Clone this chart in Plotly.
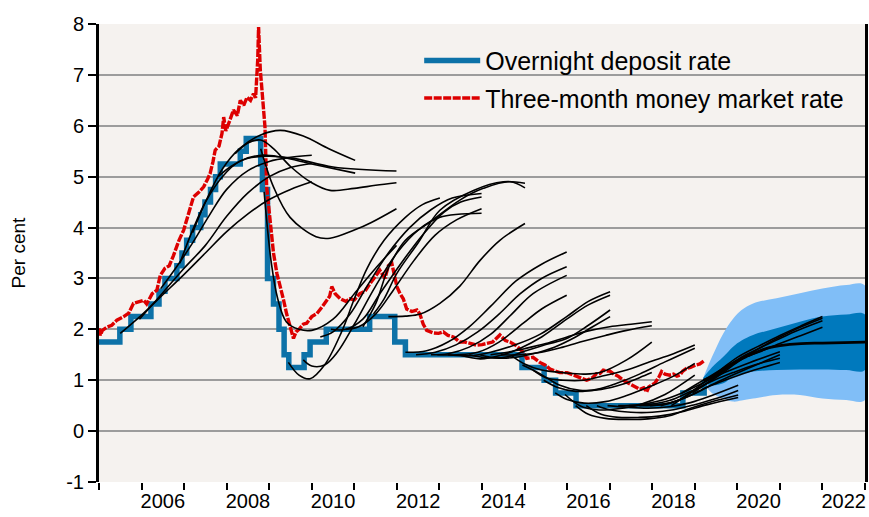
import plotly.graph_objects as go

# ---------------- data ----------------
policy_t = [2005.0, 2005.49, 2005.75, 2006.22, 2006.41, 2006.55, 2006.83, 2006.95, 2007.06, 2007.2,
            2007.39, 2007.49, 2007.62, 2007.74, 2007.85, 2008.32, 2008.46, 2008.8, 2008.84, 2008.96,
            2009.1, 2009.23, 2009.35, 2009.46, 2009.82, 2009.96, 2010.34, 2011.36, 2011.95, 2012.2,
            2014.94, 2015.46, 2015.73, 2016.21, 2018.72, 2019.22]
policy_v = [1.75, 2.0, 2.25, 2.5, 2.75, 3.0, 3.25, 3.5, 3.75, 4.0,
            4.25, 4.5, 4.75, 5.0, 5.25, 5.5, 5.75, 5.25, 4.75, 3.0,
            2.5, 2.0, 1.5, 1.25, 1.5, 1.75, 2.0, 2.25, 1.75, 1.5,
            1.25, 1.0, 0.75, 0.5, 0.75, 1.0]

nibor_t = [2005.0, 2005.03, 2005.08, 2005.2, 2005.3, 2005.42, 2005.58, 2005.7, 2005.81, 2005.95,
           2006.05, 2006.12, 2006.25, 2006.36, 2006.44, 2006.55, 2006.65, 2006.75, 2006.88, 2006.99,
           2007.1, 2007.22, 2007.35, 2007.46, 2007.55, 2007.61, 2007.68, 2007.73, 2007.82, 2007.89,
           2007.93, 2007.98, 2008.05, 2008.16, 2008.25, 2008.32, 2008.4, 2008.48, 2008.56, 2008.63,
           2008.68, 2008.71, 2008.73, 2008.75, 2008.77, 2008.79, 2008.82, 2008.86, 2008.9, 2008.94,
           2009.02, 2009.1, 2009.18, 2009.26, 2009.33, 2009.41, 2009.5, 2009.57, 2009.63, 2009.7,
           2009.8, 2009.88, 2010.0, 2010.12, 2010.25, 2010.35, 2010.42, 2010.47, 2010.55, 2010.67,
           2010.8, 2010.9, 2011.0, 2011.13, 2011.25, 2011.37, 2011.5, 2011.6, 2011.72, 2011.8,
           2011.88, 2011.95, 2012.0, 2012.07, 2012.15, 2012.23, 2012.35, 2012.47, 2012.54, 2012.62,
           2012.7, 2012.85, 2012.98, 2013.09, 2013.2, 2013.33, 2013.48, 2013.6, 2013.75, 2013.87,
           2014.0, 2014.1, 2014.25, 2014.42, 2014.55, 2014.66, 2014.8, 2014.97, 2015.05, 2015.2,
           2015.36, 2015.48, 2015.6, 2015.72, 2015.83, 2016.0, 2016.14, 2016.3, 2016.46, 2016.6,
           2016.69, 2016.77, 2016.85, 2016.95, 2017.0, 2017.1, 2017.2, 2017.32, 2017.45, 2017.55,
           2017.63, 2017.71, 2017.8, 2017.87, 2017.92, 2017.98, 2018.06, 2018.15, 2018.22, 2018.3,
           2018.41, 2018.5, 2018.58, 2018.65, 2018.72, 2018.8, 2018.9, 2019.03, 2019.12, 2019.23]
nibor_v = [2.02, 1.88, 1.98, 2.05, 2.08, 2.18, 2.25, 2.32, 2.51, 2.55,
           2.57, 2.5, 2.7, 2.77, 3.06, 3.2, 3.25, 3.45, 3.75, 3.95,
           4.25, 4.6, 4.7, 4.8, 4.95, 5.06, 5.3, 5.52, 5.6, 5.85,
           6.17, 5.9, 6.05, 6.31, 6.2, 6.5, 6.4, 6.56, 6.5, 6.63,
           6.55, 6.96, 7.3, 7.94, 7.2, 7.1, 6.8, 6.44, 5.98, 4.8,
           4.1, 3.5, 3.1, 2.85, 2.6, 2.3, 2.0, 1.82, 1.95, 2.0,
           2.1, 2.12, 2.25, 2.31, 2.45, 2.57, 2.65, 2.84, 2.7, 2.6,
           2.55, 2.6, 2.58, 2.7, 2.75, 2.9, 3.05, 3.16, 3.0, 3.25,
           3.3, 3.0, 2.84, 2.71, 2.6, 2.4, 2.35, 2.38, 2.3, 2.1,
           1.98, 1.93, 1.92, 1.95, 1.88, 1.85, 1.75, 1.75, 1.72, 1.69,
           1.7, 1.72, 1.75, 1.89, 1.78, 1.75, 1.68, 1.55, 1.43, 1.45,
           1.35, 1.3, 1.22, 1.18, 1.15, 1.15, 1.1, 1.05, 1.0, 1.05,
           1.13, 1.13, 1.2, 1.18, 1.18, 1.12, 1.08, 1.0, 0.94, 0.9,
           0.87, 0.82, 0.85, 0.77, 0.87, 0.9, 0.94, 1.05, 1.17, 1.12,
           1.1, 1.12, 1.08, 1.1, 1.18, 1.23, 1.25, 1.3, 1.32, 1.39]

# past forecast paths (year, per cent)
path_2005_2 = [(2005.5, 1.92), (2006.0, 2.28), (2006.5, 2.68), (2007.0, 3.08), (2007.5, 3.5), (2008.0, 3.92), (2008.5, 4.27), (2009.0, 4.55), (2009.5, 4.75), (2010.0, 4.9)]
path_2005_3 = [(2005.95, 2.2), (2006.5, 2.72), (2007.0, 3.2), (2007.5, 3.65), (2008.0, 4.22), (2008.5, 4.68), (2009.0, 5.0), (2009.5, 5.18), (2010.0, 5.26)]
path_2006_2 = [(2006.45, 2.8), (2006.8, 3.2), (2007.2, 3.7), (2007.6, 4.25), (2008.0, 4.75), (2008.5, 5.12), (2009.0, 5.3), (2009.5, 5.38), (2010.0, 5.42)]
path_2006_3 = [(2006.9, 3.3), (2007.2, 3.95), (2007.5, 4.5), (2007.9, 5.0), (2008.3, 5.3), (2008.8, 5.42), (2009.3, 5.38), (2010.0, 5.25), (2011.02, 5.07)]
path_2007_1 = [(2007.2, 3.9), (2007.5, 4.5), (2007.9, 5.15), (2008.3, 5.55), (2008.8, 5.82), (2009.26, 5.91), (2009.8, 5.8), (2010.4, 5.55), (2011.02, 5.32)]
path_2007_3 = [(2007.8, 5.0), (2008.1, 5.2), (2008.5, 5.36), (2009.0, 5.4), (2009.57, 5.36), (2010.5, 5.19), (2011.99, 5.11)]
path_2008_1 = [(2008.2, 5.45), (2008.5, 5.66), (2008.8, 5.72), (2009.1, 5.55), (2009.5, 5.2), (2010.0, 4.88), (2010.43, 4.73), (2011.0, 4.77), (2011.5, 4.83), (2011.99, 4.88)]
path_2008_3 = [(2008.8, 5.55), (2009.1, 4.8), (2009.49, 4.2), (2010.1, 3.82), (2010.43, 3.79), (2011.0, 3.95), (2011.4, 4.1), (2011.99, 4.37)]
path_2009_1 = [(2008.88, 4.7), (2009.05, 3.3), (2009.2, 2.6), (2009.4, 2.15), (2009.7, 2.0), (2010.0, 1.98), (2010.5, 2.2), (2011.0, 2.7), (2011.5, 3.2), (2011.99, 3.65)]
path_2009_2 = [(2009.45, 1.35), (2009.7, 1.1), (2009.96, 1.03), (2010.3, 1.3), (2010.7, 1.95), (2011.0, 2.6), (2011.3, 3.2), (2011.7, 3.75), (2012.2, 4.2), (2012.6, 4.45), (2013.01, 4.58)]
path_2009_3 = [(2009.8, 1.4), (2010.0, 1.28), (2010.3, 1.3), (2010.6, 1.55), (2011.0, 2.1), (2011.5, 2.85), (2012.0, 3.5), (2012.5, 3.95), (2013.0, 4.2), (2013.99, 4.28)]
path_2010_1 = [(2010.2, 1.85), (2010.5, 1.95), (2010.9, 2.3), (2011.3, 2.85), (2011.8, 3.5), (2012.3, 4.0), (2012.8, 4.35), (2013.3, 4.58), (2013.99, 4.67)]
path_2010_2 = [(2010.45, 2.0), (2010.8, 2.0), (2011.2, 2.2), (2011.6, 2.7), (2012.1, 3.3), (2012.6, 3.85), (2013.1, 4.3), (2013.5, 4.5), (2013.99, 4.6)]
path_2010_3 = [(2010.8, 2.0), (2011.1, 2.05), (2011.5, 2.3), (2011.9, 2.75), (2012.4, 3.35), (2012.9, 3.85), (2013.4, 4.15), (2013.99, 4.37)]
path_2011_1 = [(2011.2, 2.05), (2011.5, 2.5), (2011.8, 3.2), (2012.2, 3.75), (2012.78, 4.11), (2013.48, 4.54), (2014.03, 4.77), (2014.66, 4.9), (2015.01, 4.78)]
path_2011_2 = [(2011.45, 2.3), (2011.7, 2.6), (2012.0, 3.1), (2012.5, 3.7), (2013.01, 4.34), (2013.8, 4.73), (2014.5, 4.9), (2015.01, 4.87)]
path_2011_3 = [(2011.8, 2.25), (2012.2, 2.26), (2012.55, 2.3), (2013.01, 2.51), (2013.48, 2.85), (2013.95, 3.35), (2014.42, 3.75), (2015.01, 4.08)]
path_2012_1 = [(2012.2, 1.55), (2012.7, 1.58), (2013.2, 1.75), (2013.7, 2.05), (2014.2, 2.45), (2014.8, 2.95), (2015.4, 3.28), (2015.99, 3.52)]
path_2012_2 = [(2012.45, 1.5), (2012.9, 1.55), (2013.4, 1.7), (2013.9, 1.95), (2014.4, 2.3), (2014.9, 2.7), (2015.4, 3.0), (2015.99, 3.23)]
path_2012_3 = [(2012.8, 1.5), (2013.2, 1.52), (2013.7, 1.65), (2014.2, 1.9), (2014.7, 2.3), (2015.2, 2.7), (2015.99, 3.06)]
path_2012_4 = [(2012.95, 1.5), (2013.4, 1.5), (2013.9, 1.55), (2014.4, 1.75), (2014.97, 2.12), (2015.4, 2.4), (2015.99, 2.67)]
path_2013_1 = [(2013.2, 1.5), (2013.7, 1.48), (2014.2, 1.55), (2014.8, 1.7), (2015.36, 1.9), (2015.99, 2.25), (2016.5, 2.55), (2017.01, 2.74)]
path_2013_2 = [(2013.45, 1.5), (2013.96, 1.42), (2014.4, 1.48), (2014.9, 1.63), (2015.4, 1.85), (2015.99, 2.2), (2016.5, 2.48), (2017.01, 2.67)]
path_2013_3 = [(2013.7, 1.5), (2014.1, 1.44), (2014.6, 1.46), (2014.97, 1.56), (2015.5, 1.7), (2015.99, 1.82), (2016.5, 2.08), (2017.01, 2.38)]
path_2013_4 = [(2013.95, 1.5), (2014.3, 1.44), (2014.8, 1.45), (2015.2, 1.52), (2015.7, 1.65), (2016.2, 1.85), (2016.6, 2.05), (2017.01, 2.25)]
path_2014_1 = [(2014.2, 1.5), (2014.6, 1.55), (2015.0, 1.62), (2015.5, 1.72), (2016.0, 1.85), (2016.5, 1.97), (2017.0, 2.05), (2017.5, 2.1), (2017.99, 2.15)]
path_2014_2 = [(2014.45, 1.5), (2014.9, 1.5), (2015.4, 1.55), (2015.9, 1.65), (2016.4, 1.77), (2016.9, 1.88), (2017.4, 1.98), (2017.99, 2.07)]
path_2014_3 = [(2014.7, 1.48), (2015.0, 1.32), (2015.4, 1.2), (2015.9, 1.15), (2016.4, 1.12), (2016.77, 1.15), (2017.4, 1.4), (2017.99, 1.75)]
path_2014_4 = [(2014.95, 1.3), (2015.36, 1.13), (2015.83, 0.9), (2016.3, 0.8), (2016.8, 0.82), (2017.3, 0.92), (2017.7, 1.05), (2017.99, 1.15)]
path_2015_1 = [(2015.2, 1.2), (2015.5, 1.05), (2015.9, 1.0), (2016.4, 1.0), (2016.77, 1.07), (2017.4, 1.2), (2017.9, 1.35), (2018.5, 1.52), (2019.0, 1.69)]
path_2015_2 = [(2015.45, 1.0), (2015.8, 0.85), (2016.2, 0.78), (2016.7, 0.82), (2017.2, 0.95), (2017.7, 1.12), (2018.3, 1.36), (2019.0, 1.63)]
path_2015_3 = [(2015.72, 0.75), (2016.0, 0.62), (2016.4, 0.55), (2016.9, 0.58), (2017.4, 0.7), (2017.9, 0.86), (2018.5, 1.08), (2019.0, 1.33)]
path_2015_4 = [(2015.95, 0.72), (2016.3, 0.5), (2016.7, 0.42), (2017.2, 0.44), (2017.7, 0.52), (2018.3, 0.72), (2019.0, 1.1)]
path_2016_1 = [(2016.2, 0.5), (2016.5, 0.33), (2016.9, 0.25), (2017.4, 0.23), (2017.9, 0.24), (2018.4, 0.3), (2018.9, 0.45), (2019.5, 0.6), (2020.02, 0.71)]
path_2016_2 = [(2016.45, 0.5), (2016.8, 0.33), (2017.2, 0.27), (2017.7, 0.27), (2018.2, 0.3), (2018.7, 0.38), (2019.3, 0.52), (2020.02, 0.66)]
path_2016_3 = [(2016.7, 0.5), (2017.0, 0.42), (2017.5, 0.37), (2018.0, 0.37), (2018.5, 0.42), (2019.0, 0.52), (2019.5, 0.64), (2020.02, 0.8)]
path_2016_4 = [(2016.95, 0.5), (2017.4, 0.47), (2017.9, 0.45), (2018.4, 0.48), (2018.9, 0.56), (2019.4, 0.7), (2020.02, 0.9)]
path_2017_1 = [(2017.2, 0.5), (2017.7, 0.52), (2018.2, 0.6), (2018.7, 0.75), (2019.2, 0.95), (2019.7, 1.15), (2020.3, 1.35), (2021.0, 1.56)]
path_2017_2 = [(2017.45, 0.5), (2017.9, 0.52), (2018.4, 0.6), (2018.9, 0.78), (2019.4, 0.98), (2019.9, 1.15), (2020.4, 1.3), (2021.0, 1.43)]
path_2017_3 = [(2017.7, 0.5), (2018.2, 0.52), (2018.7, 0.63), (2019.2, 0.83), (2019.7, 1.03), (2020.3, 1.25), (2021.0, 1.5)]
path_2017_4 = [(2017.95, 0.5), (2018.4, 0.55), (2018.9, 0.7), (2019.4, 0.9), (2019.9, 1.06), (2020.4, 1.2), (2021.0, 1.35)]
path_2018_1 = [(2018.2, 0.5), (2018.6, 0.6), (2019.0, 0.8), (2019.5, 1.05), (2020.0, 1.35), (2020.5, 1.62), (2021.0, 1.85), (2021.5, 2.05), (2022.0, 2.22)]
path_2018_2 = [(2018.45, 0.5), (2018.8, 0.7), (2019.2, 0.95), (2019.6, 1.2), (2020.0, 1.45), (2020.5, 1.67), (2021.0, 1.88), (2021.5, 2.07), (2022.0, 2.25)]
path_2018_3 = [(2018.7, 0.75), (2019.0, 0.9), (2019.4, 1.1), (2019.8, 1.3), (2020.2, 1.5), (2020.7, 1.7), (2021.2, 1.9), (2021.6, 2.04), (2022.0, 2.17)]
path_2018_4 = [(2018.95, 0.75), (2019.3, 0.95), (2019.7, 1.2), (2020.1, 1.42), (2020.5, 1.55), (2021.0, 1.72), (2021.5, 1.88), (2022.0, 2.04)]

past_paths = [path_2005_2, path_2005_3, path_2006_2, path_2006_3, path_2007_1, path_2007_3,
              path_2008_1, path_2008_3, path_2009_1, path_2009_2, path_2009_3, path_2010_1,
              path_2010_2, path_2010_3, path_2011_1, path_2011_2, path_2011_3, path_2012_1,
              path_2012_2, path_2012_3, path_2012_4, path_2013_1, path_2013_2, path_2013_3,
              path_2013_4, path_2014_1, path_2014_2, path_2014_3, path_2014_4, path_2015_1,
              path_2015_2, path_2015_3, path_2015_4, path_2016_1, path_2016_2, path_2016_3,
              path_2016_4, path_2017_1, path_2017_2, path_2017_3, path_2017_4, path_2018_1,
              path_2018_2, path_2018_3, path_2018_4]

# fan chart (current forecast)
fan_t = [2019.2, 2019.4, 2019.67, 2019.9, 2020.1, 2020.37, 2020.92, 2021.47, 2022.0, 2022.56, 2023.0]
fan_outer_hi = [1.05, 1.45, 1.92, 2.21, 2.38, 2.51, 2.61, 2.71, 2.8, 2.87, 2.86]
fan_inner_hi = [1.05, 1.25, 1.46, 1.66, 1.78, 1.89, 2.02, 2.15, 2.25, 2.29, 2.29]
fan_inner_lo = [0.95, 0.9, 0.94, 1.07, 1.12, 1.17, 1.2, 1.21, 1.21, 1.2, 1.2]
fan_outer_lo = [0.95, 0.75, 0.64, 0.58, 0.6, 0.64, 0.71, 0.71, 0.64, 0.61, 0.61]
central_t = [2019.2, 2019.5, 2019.75, 2020.0, 2020.25, 2020.5, 2020.75, 2021.0, 2021.5, 2022.0, 2023.0]
central_v = [1.0, 1.1, 1.25, 1.38, 1.48, 1.57, 1.64, 1.68, 1.72, 1.73, 1.75]

year_labels = ["2006", "2008", "2010", "2012", "2014", "2016", "2018", "2020", "2022"]
y_ticks = [-1, 0, 1, 2, 3, 4, 5, 6, 7, 8]

BLUE = "#0D72A8"
RED = "#DD0000"
DARK_FAN = "#0079BD"
LIGHT_FAN = "#80BEF7"
FONT = "Liberation Sans, Arial, sans-serif"

fig = go.Figure()

# fan: outer band
fig.add_trace(go.Scatter(x=fan_t + fan_t[::-1], y=fan_outer_hi + fan_outer_lo[::-1], fill="toself",
                         fillcolor=LIGHT_FAN, line=dict(width=0, shape="spline"), mode="lines",
                         showlegend=False, hoverinfo="skip"))
fig.add_trace(go.Scatter(x=fan_t + fan_t[::-1], y=fan_inner_hi + fan_inner_lo[::-1], fill="toself",
                         fillcolor=DARK_FAN, line=dict(width=0, shape="spline"), mode="lines",
                         showlegend=False, hoverinfo="skip"))

# policy rate
fig.add_trace(go.Scatter(x=policy_t, y=policy_v, mode="lines", name="Overnight deposit rate",
                         line=dict(color=BLUE, width=5.5, shape="hv"), legendgroup="a"))
# money market rate
fig.add_trace(go.Scatter(x=nibor_t, y=nibor_v, mode="lines", name="Three-month money market rate",
                         line=dict(color=RED, width=3.4, dash="8px,1.5px"), legendgroup="b"))

# past forecasts
for p in past_paths:
    fig.add_trace(go.Scatter(x=[a for a, b in p], y=[b for a, b in p], mode="lines",
                             line=dict(color="black", width=1.6, shape="spline", smoothing=1.0),
                             showlegend=False, hoverinfo="skip"))

# central forecast
fig.add_trace(go.Scatter(x=central_t, y=central_v, mode="lines",
                         line=dict(color="black", width=2.8, shape="spline"),
                         showlegend=False, hoverinfo="skip"))

fig.update_layout(
    width=869, height=517,
    margin=dict(l=99, r=4, t=24, b=35, autoexpand=False),
    paper_bgcolor="white", plot_bgcolor="#F5F2EF",
    font=dict(family=FONT, size=20, color="black"),
    legend=dict(x=0.418, y=0.97, xanchor="left", yanchor="top", bgcolor="rgba(0,0,0,0)",
                font=dict(size=25, family=FONT), tracegroupgap=2, itemwidth=56),
    xaxis=dict(range=[2005, 2023], showgrid=False, zeroline=False, showline=False,
               tickmode="array", tickvals=[2006.5 + 2 * i for i in range(9)], ticktext=year_labels,
               ticks="outside", ticklen=1, tickcolor="rgba(0,0,0,0)",
               minor=dict(tickmode="array", tickvals=list(range(2005, 2024)), ticks="outside",
                          ticklen=7, tickwidth=2, tickcolor="black", showgrid=False),
               tickfont=dict(size=20)),
    yaxis=dict(range=[-1, 8], tickmode="array", tickvals=y_ticks, ticktext=[str(v) for v in y_ticks],
               ticks="outside", ticklen=8, tickwidth=2, tickcolor="black", showgrid=False,
               zeroline=False, showline=True, linewidth=3, linecolor="black", mirror=True,
               tickfont=dict(size=20),
               title=dict(text="Per cent", font=dict(size=19), standoff=36)),
    yaxis2=dict(range=[-1, 8], overlaying="y", side="left", tickmode="array",
                tickvals=[0, 1, 2, 3, 4, 5, 6, 7], showticklabels=False, ticks="",
                showgrid=True, gridcolor="#9C9C9C", gridwidth=1.5, zeroline=False, showline=False),
)
# invisible helper so the grid axis is active
fig.add_trace(go.Scatter(x=[2005], y=[0], yaxis="y2", mode="markers", marker=dict(opacity=0),
                         showlegend=False, hoverinfo="skip"))

fig.write_html("out.html", config={"displayModeBar": False},
               post_script="document.body.style.margin='0px';")
